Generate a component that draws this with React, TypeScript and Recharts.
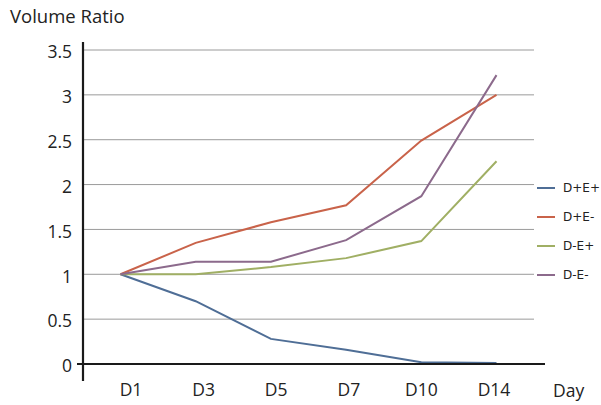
import React from 'react';
import { LineChart, Line, XAxis, YAxis, CartesianGrid, Legend } from 'recharts';

const days = ['D1', 'D3', 'D5', 'D7', 'D10', 'D14'];
const dPlusEPlus = [1, 0.7, 0.28, 0.16, 0.02, 0.01];
const dPlusEMinus = [1, 1.35, 1.58, 1.77, 2.49, 3.0];
const dMinusEPlus = [1, 1.0, 1.08, 1.18, 1.37, 2.26];
const dMinusEMinus = [1, 1.14, 1.14, 1.38, 1.87, 3.22];
const yTicks = [0, 0.5, 1, 1.5, 2, 2.5, 3, 3.5];

const seriesNames = ['D+E+', 'D+E-', 'D-E+', 'D-E-'];
const seriesColors = ['#4F6E96', '#C9634A', '#A0AF64', '#8C6A8C'];
const seriesValues = [dPlusEPlus, dPlusEMinus, dMinusEPlus, dMinusEMinus];

const data = days.map((d, i) => {
  const row: Record<string, string | number> = { day: d };
  seriesNames.forEach((n, k) => {
    row[n] = seriesValues[k][i];
  });
  return row;
});

const FONT = '"Open Sans", "Noto Sans", sans-serif';

const YTick = (props: any) => {
  const { x, y, payload } = props;
  return (
    <text x={x} y={y + 2} dy="0.36em" textAnchor="end" fontFamily={FONT} fontSize={17.5} fill="#222">
      {payload.value}
    </text>
  );
};

const XTick = (props: any) => {
  const { x, y, payload } = props;
  return (
    <text x={x} y={y - 6} textAnchor="middle" fontFamily={FONT} fontSize={17.5} fill="#222">
      {payload.value}
    </text>
  );
};

const LegendContent = () => (
  <div style={{ fontFamily: '"DejaVu Sans", sans-serif', fontSize: 12, color: '#222' }}>
    {seriesNames.map((n, k) => (
      <div key={n} style={{ display: 'flex', alignItems: 'center', height: 29 }}>
        <div style={{ width: 18, height: 2, background: seriesColors[k], marginRight: 8 }} />
        <span>{n}</span>
      </div>
    ))}
  </div>
);

export default function App() {
  return (
    <div style={{ position: 'absolute', left: 0, top: 0, width: 601, height: 405, background: '#fff' }}>
      <LineChart width={601} height={405} data={data} margin={{ top: 50, right: 67, bottom: 0, left: 0 }}>
        <CartesianGrid vertical={false} stroke="#9a9a9a" strokeWidth={1} />
        <XAxis dataKey="day" hide padding={{ left: 37.5, right: 37.5 }} />
        <XAxis
          dataKey="day"
          xAxisId="labels"
          axisLine={false}
          tickLine={false}
          height={41}
          padding={{ left: 48, right: 40 }}
          tick={<XTick />}
          interval={0}
        />
        <YAxis
          width={83}
          domain={[0, 3.5]}
          ticks={yTicks}
          axisLine={false}
          tickLine={false}
          tickMargin={5}
          tick={<YTick />}
          interval={0}
        />
        <Legend
          layout="vertical"
          align="center"
          verticalAlign="middle"
          content={<LegendContent />}
          wrapperStyle={{ position: 'absolute', left: 537, top: 173, width: 64 }}
        />
        {seriesNames.map((n, k) => (
          <Line
            key={n}
            type="linear"
            dataKey={n}
            stroke={seriesColors[k]}
            strokeWidth={2}
            dot={false}
            activeDot={false}
            isAnimationActive={false}
          />
        ))}
      </LineChart>
      <svg width={601} height={405} style={{ position: 'absolute', left: 0, top: 0, pointerEvents: 'none' }}>
        <line x1={83} y1={42} x2={83} y2={381} stroke="#1a1a1a" strokeWidth={2.2} />
        <line x1={77} y1={364} x2={545} y2={364} stroke="#1a1a1a" strokeWidth={2.2} />
        <text x={10} y={23} fontFamily={FONT} fontSize={18.5} fill="#222">Volume Ratio</text>
        <text x={553} y={397} fontFamily={FONT} fontSize={17.5} fill="#222">Day</text>
      </svg>
    </div>
  );
}
